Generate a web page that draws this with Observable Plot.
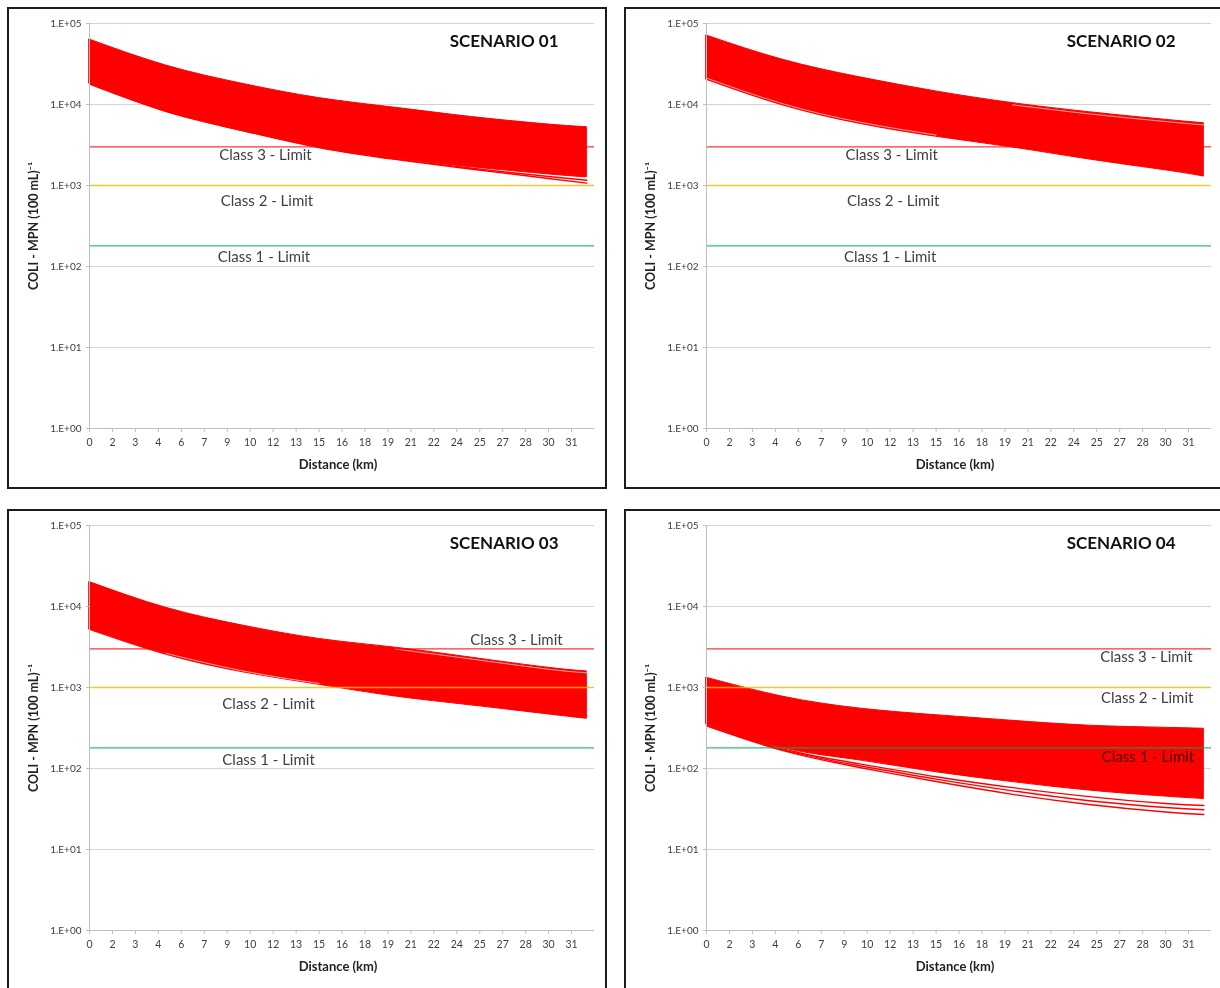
<!DOCTYPE html>
<html><head><meta charset="utf-8">
<script src="https://cdn.jsdelivr.net/npm/d3@7"></script>
<script src="https://cdn.jsdelivr.net/npm/@observablehq/plot@0.6"></script>
<style>
body{margin:0;background:#fff;width:1220px;height:988px;overflow:hidden;position:relative;font-family:Lato,"Open Sans",sans-serif;}
.panel{position:absolute;width:596px;height:478px;border:2px solid #1c1c1c;background:#fff;overflow:hidden;}
.panel svg{display:block;}
</style></head><body>
<script>
// ---------- data ----------
const distanceKm = [0, 5, 10, 15, 20, 25, 30, 32.5];

const s1Upper = [63400, 30300, 18000, 12000, 9100, 7000, 5660, 5250];
const s1Lower = [18000, 8260, 4780, 2970, 2140, 1680, 1370, 1260];
const s1OutlierA = [18000, 8260, 4780, 2960, 2125, 1630, 1290, 1160];
const s1OutlierB = [18000, 8260, 4770, 2950, 2100, 1590, 1220, 1070];

const s2Upper = [71100, 35600, 21700, 14500, 10400, 8040, 6470, 5870];
const s2Lower = [20200, 9730, 5780, 4000, 2950, 2100, 1540, 1290];
// thin white gaps between simulated runs
const s2GapLowKm = [0, 5, 10, 15];
const s2GapLow = [21200, 10200, 6070, 4200];
const s2GapHighKm = [20, 25, 30, 32.5];
const s2GapHigh = [9900, 7660, 6160, 5590];

const s3Upper = [20000, 9640, 5820, 3980, 3100, 2330, 1750, 1580];
const s3Lower = [5150, 2540, 1545, 1080, 774, 600, 465, 411];
const s3GapHighKm = [20, 25, 30, 32.5];
const s3GapHigh = [2980, 2240, 1680, 1520];
const s3GapLowKm = [5, 10, 15];
const s3GapLow = [2640, 1607, 1123];

const s4Upper = [1320, 770, 550, 455, 388, 338, 318, 309];
const s4Lower = [349, 178, 126, 90, 68, 53.5, 45, 42];
const s4OutlierA = [345, 174, 114, 79, 58, 45, 37, 35];
const s4OutlierB = [340, 170, 108, 74, 53, 40, 33, 31];
const s4OutlierC = [336, 166, 103, 69, 48, 36, 29, 27];

const classNames = ["Class 3 - Limit", "Class 2 - Limit", "Class 1 - Limit"];
const classValues = [3000, 1000, 180];
const classColors = ["#ff0000", "#ffc000", "#00b050"];

// label anchors (km, value) per scenario, in class order 3,2,1
const labelKm = [[11.5, 11.6, 11.4], [12.1, 12.2, 12.0], [27.9, 11.7, 11.7], [28.75, 28.8, 28.85]];
const labelValue = [[2344, 634, 129], [2344, 634, 129], [3800, 617, 126], [2344, 731, 137]];

const scenarioTitles = ["SCENARIO 01", "SCENARIO 02", "SCENARIO 03", "SCENARIO 04"];

const yTicks = [1, 10, 100, 1000, 10000, 100000];
const yTickLabels = ["1.E+00", "1.E+01", "1.E+02", "1.E+03", "1.E+04", "1.E+05"];
const xTickValues = [0, 1.5, 3, 4.5, 6, 7.5, 9, 10.5, 12, 13.5, 15, 16.5, 18, 19.5, 21, 22.5, 24, 25.5, 27, 28.5, 30, 31.5];
const xTickLabels = ["0","2","3","4","6","7","9","10","12","13","15","16","18","19","21","22","24","25","27","28","30","31"];

const xTitle = "Distance (km)";
const yTitle = "COLI - MPN (100 mL)⁻¹";

// ---------- build ----------
const scenarios = [
  {upper: s1Upper, lower: s1Lower, outliers: [s1OutlierA, s1OutlierB], gaps: []},
  {upper: s2Upper, lower: s2Lower, outliers: [], gaps: [[s2GapLowKm, s2GapLow], [s2GapHighKm, s2GapHigh]]},
  {upper: s3Upper, lower: s3Lower, outliers: [], gaps: [[s3GapHighKm, s3GapHigh], [s3GapLowKm, s3GapLow]]},
  {upper: s4Upper, lower: s4Lower, outliers: [s4OutlierA, s4OutlierB, s4OutlierC], gaps: []}
];
const panelPos = [[7, 7], [624, 7], [7, 509], [624, 509]];
const xLabelMap = new Map(xTickValues.map((v, i) => [v, xTickLabels[i]]));
const yLabelMap = new Map(yTicks.map((v, i) => [v, yTickLabels[i]]));
const limits = classValues.map((v, i) => ({value: v, color: classColors[i], name: classNames[i]}));
const CURVE = "natural";

scenarios.forEach((sc, k) => {
  const band = distanceKm.map((d, i) => ({d, hi: sc.upper[i], lo: sc.lower[i]}));
  const outlierData = sc.outliers.flatMap((arr, j) => distanceKm.map((d, i) => ({d, v: arr[i], id: j})));
  const gapData = sc.gaps.flatMap(([xs, vs], j) => xs.map((d, i) => ({d, v: vs[i], id: j})));
  const labels = classNames.map((t, i) => ({t, x: labelKm[k][i], y: labelValue[k][i]}));

  const chart = Plot.plot({
    width: 596, height: 478,
    marginLeft: 80, marginRight: 11, marginTop: 14, marginBottom: 59,
    style: {fontFamily: "Lato, 'Open Sans', sans-serif", background: "#fff", color: "#404040", overflow: "visible"},
    x: {domain: [0, 33]},
    y: {type: "log", domain: [1, 100000]},
    marks: [
      Plot.ruleY(yTicks, {stroke: "#d4d4d4", strokeWidth: 1}),
      Plot.areaY(band, {x: "d", y1: "lo", y2: "hi", fill: "#ff0000", stroke: "#ff0000", strokeWidth: 1, curve: CURVE}),
      Plot.line(gapData, {x: "d", y: "v", z: "id", stroke: "#ffffff", strokeWidth: 0.7, strokeOpacity: 0.9, curve: CURVE}),
      Plot.line(outlierData, {x: "d", y: "v", z: "id", stroke: "#ff0000", strokeWidth: 1.4, curve: CURVE}),
      Plot.ruleY(limits, {y: "value", stroke: "color", strokeWidth: 1.3, strokeOpacity: 0.8}),
      Plot.text(labels, {x: "x", y: "y", text: "t", fontSize: 15, fill: "#404040", textAnchor: "middle", lineAnchor: "middle", mixBlendMode: "multiply"}),
      Plot.text([scenarioTitles[k]], {frameAnchor: "top-right", dx: -36, dy: 18, fontSize: 17, fontWeight: "bold", fill: "#111", textAnchor: "end", lineAnchor: "middle"}),
      Plot.ruleX([0], {stroke: "#bfbfbf"}),
      Plot.ruleY([1], {stroke: "#bfbfbf"}),
      Plot.axisY({ticks: yTicks, tickFormat: d => yLabelMap.get(d), tickSize: 3, tickPadding: 5, fontSize: 10, stroke: "#bfbfbf", fill: "#404040", label: null}),
      Plot.axisX({ticks: xTickValues, tickFormat: d => xLabelMap.get(d), tickSize: 4, tickPadding: 6, fontSize: 10.5, stroke: "#bfbfbf", fill: "#404040", label: null}),
      Plot.text([xTitle], {frameAnchor: "bottom", dx: -4, dy: 36, fontSize: 13, fontWeight: "bold", fill: "#222", textAnchor: "middle", lineAnchor: "middle"}),
      Plot.text([yTitle], {frameAnchor: "left", dx: -56, rotate: -90, fontSize: 12.5, fontWeight: "bold", fill: "#222", textAnchor: "middle", lineAnchor: "middle"})
    ]
  });
  const div = document.createElement("div");
  div.className = "panel";
  div.style.left = panelPos[k][0] + "px";
  div.style.top = panelPos[k][1] + "px";
  div.appendChild(chart);
  document.body.appendChild(div);
});
</script>
</body></html>
